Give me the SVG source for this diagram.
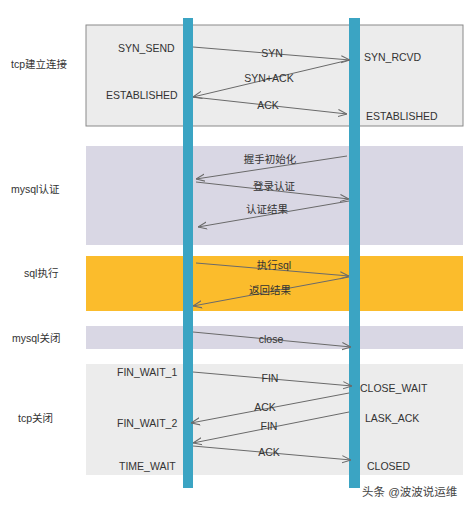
<svg xmlns="http://www.w3.org/2000/svg" width="471" height="509" viewBox="0 0 471 509">
<defs>
<style>
text{font-family:"Liberation Sans","Noto Sans CJK SC",sans-serif;font-size:10.5px;fill:#333}
.m{text-anchor:middle}
.conn line{stroke:#6a6a6a;stroke-width:1;marker-end:url(#ah)}
.bar{fill:#3ba4c3}
</style>
<marker id="ah" viewBox="0 0 10 10" refX="10" refY="5" markerWidth="9" markerHeight="9" orient="auto" markerUnits="userSpaceOnUse">
<path d="M0,1 L10,5 L0,9" fill="none" stroke="#6a6a6a" stroke-width="1.2"/>
</marker>
</defs>
<rect width="471" height="509" fill="#fff"/>
<g id="phase-tcp-open">
<rect x="86" y="25" width="377" height="101" fill="#ececec" stroke="#8a8a8a" stroke-width="1"/>
<text x="11" y="68">tcp建立连接</text>
</g>
<g id="phase-mysql-auth">
<rect x="86" y="146" width="377" height="99" fill="#d9d7e4"/>
<text x="11" y="193">mysql认证</text>
</g>
<g id="phase-sql">
<rect x="86" y="256" width="377" height="55" fill="#fbbc2c"/>
<text x="24" y="277">sql执行</text>
</g>
<g id="phase-mysql-close">
<rect x="86" y="326" width="377" height="23" fill="#d9d7e4"/>
<text x="12" y="342">mysql关闭</text>
</g>
<g id="phase-tcp-close">
<rect x="86" y="364" width="377" height="111" fill="#ececec"/>
<text x="18" y="422">tcp关闭</text>
</g>
<g id="client">
<rect class="bar" x="183" y="18" width="10" height="470"/>
</g>
<g id="server">
<rect class="bar" x="349" y="18" width="11" height="470"/>
</g>
<g id="states">
<text x="118" y="52">SYN_SEND</text>
<text x="364" y="61">SYN_RCVD</text>
<text x="106" y="99">ESTABLISHED</text>
<text x="366" y="120">ESTABLISHED</text>
<text x="117" y="376">FIN_WAIT_1</text>
<text x="360" y="392">CLOSE_WAIT</text>
<text x="365" y="422">LASK_ACK</text>
<text x="117" y="427">FIN_WAIT_2</text>
<text x="119" y="470">TIME_WAIT</text>
<text x="367" y="470">CLOSED</text>
</g>
<g class="conn" id="connectors">
<line x1="193" y1="47" x2="350" y2="60"/>
<line x1="349" y1="60" x2="193" y2="97"/>
<line x1="193" y1="97" x2="347" y2="114"/>
<line x1="347" y1="156" x2="196" y2="179"/>
<line x1="196" y1="182" x2="349" y2="199"/>
<line x1="349" y1="201" x2="198" y2="227"/>
<line x1="196" y1="263" x2="349" y2="276"/>
<line x1="349" y1="277" x2="193" y2="306"/>
<line x1="193" y1="332" x2="351" y2="347"/>
<line x1="193" y1="372" x2="352" y2="386"/>
<line x1="349" y1="393" x2="191" y2="423"/>
<line x1="349" y1="412" x2="193" y2="443"/>
<line x1="193" y1="446" x2="351" y2="460"/>
</g>
<g id="labels">
<text class="m" x="272" y="57">SYN</text>
<text class="m" x="269" y="82">SYN+ACK</text>
<text class="m" x="268" y="109">ACK</text>
<text class="m" x="270" y="163">握手初始化</text>
<text class="m" x="274" y="190">登录认证</text>
<text class="m" x="267" y="213">认证结果</text>
<text class="m" x="274" y="269">执行sql</text>
<text class="m" x="270" y="294">返回结果</text>
<text class="m" x="271" y="343">close</text>
<text class="m" x="270" y="382">FIN</text>
<text class="m" x="265" y="411">ACK</text>
<text class="m" x="269" y="430">FIN</text>
<text class="m" x="269" y="456">ACK</text>
</g>
<text x="362" y="496" style="font-size:11.5px;fill:#444">头条 @波波说运维</text>
</svg>
